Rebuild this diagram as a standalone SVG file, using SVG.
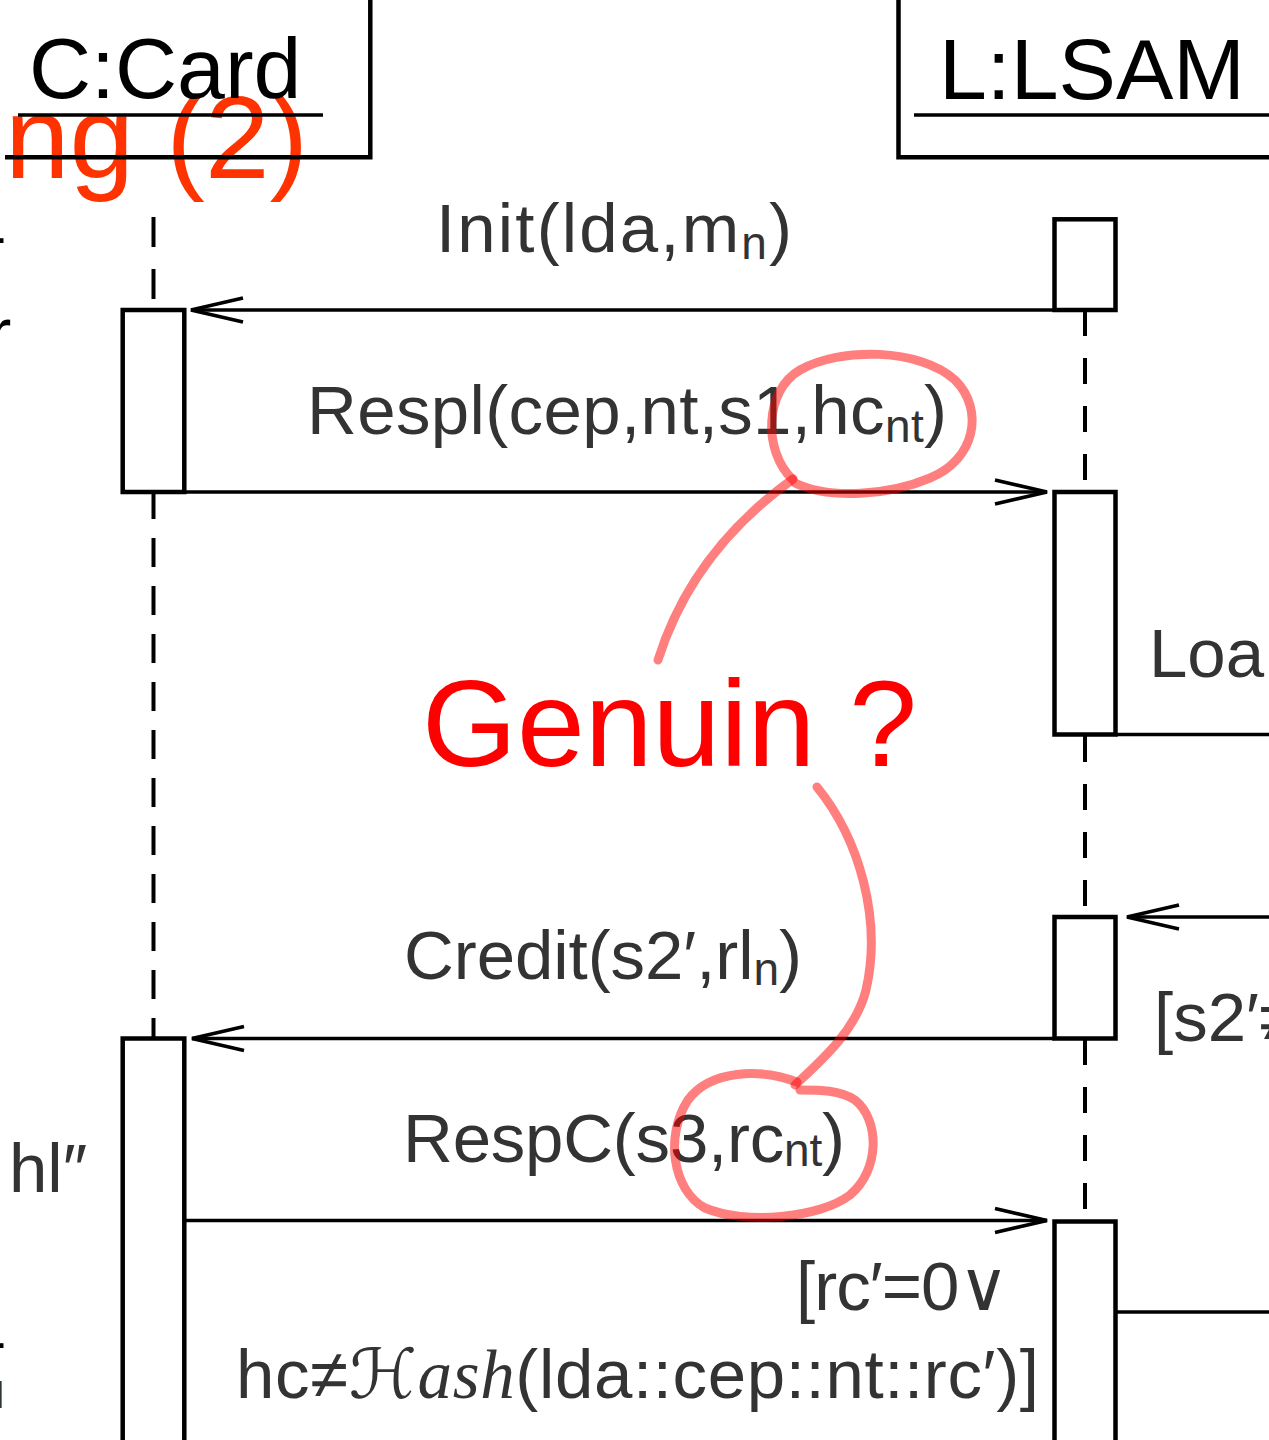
<svg xmlns="http://www.w3.org/2000/svg" width="1269" height="1440" viewBox="0 0 1269 1440">
<style>
.box{fill:none;stroke:#000;stroke-width:4.5}
.life{fill:none;stroke:#000;stroke-width:4}
.msg{fill:none;stroke:#000;stroke-width:3.6}
.ttl{font-family:"Liberation Sans","DejaVu Sans",sans-serif;font-size:86px;fill:#000}
.lbl{font-family:"Liberation Sans","DejaVu Sans",sans-serif;font-size:69px;fill:#333}
.sub{font-size:46px}
.frag{font-family:"Liberation Sans","DejaVu Sans",sans-serif;fill:#000}
.pen{fill:none;stroke:#ff0000;stroke-opacity:0.5;stroke-width:9;stroke-linecap:round;stroke-linejoin:round}
</style>
<defs>
<marker id="arr" markerUnits="userSpaceOnUse" orient="auto" overflow="visible" markerWidth="60" markerHeight="30" refX="0" refY="0">
<path d="M -52 -12 L 0 0 L -52 12" fill="none" stroke="#000" stroke-width="3.6"/>
</marker>
</defs>
<rect width="1269" height="1440" fill="#fff"/>

<!-- slide title fragment -->
<text id="title-fragment" x="5" y="178" font-family="Liberation Sans, Arial, sans-serif" font-size="116" fill="#ff3300">ng (2)</text>

<!-- clipped fragments on the left edge -->
<g id="left-fragments">
<text class="frag" x="-5" y="243" font-size="45">.</text>
<text class="frag" x="-12" y="357" font-size="70">r</text>
<text class="lbl" x="9" y="1192">hl″</text>
<text class="frag" x="-5" y="1348" font-size="45">.</text>
<text class="lbl" x="-27" y="1408" style="font-size:38px">M</text>
</g>

<!-- lifeline heads -->
<g id="card">
<path class="box" d="M 5 157.3 H 370.3 V 0"/>
<text class="ttl" x="29" y="98">C:Card</text>
<line x1="18" y1="115" x2="323" y2="115" stroke="#000" stroke-width="3.5"/>
</g>
<g id="lsam">
<path class="box" d="M 1269 157.3 H 898.5 V 0"/>
<text class="ttl" x="939" y="99">L:LSAM</text>
<line x1="914" y1="115" x2="1269" y2="115" stroke="#000" stroke-width="3.5"/>
</g>

<!-- lifelines -->
<g id="lifelines">
<line class="life" x1="153.5" y1="217" x2="153.5" y2="310" stroke-dasharray="30 22"/>
<line class="life" x1="153.5" y1="490" x2="153.5" y2="1038" stroke-dasharray="29 19"/>
<line class="life" x1="1085" y1="310" x2="1085" y2="492" stroke-width="3.5" stroke-dasharray="26 22"/>
<line class="life" x1="1085" y1="736" x2="1085" y2="917" stroke-width="3.5" stroke-dasharray="26 22"/>
<line class="life" x1="1085" y1="1039" x2="1085" y2="1221" stroke-width="3.5" stroke-dasharray="26 22"/>
</g>

<!-- connectors -->
<g id="connectors">
<line class="msg" x1="1054.5" y1="310" x2="191" y2="310" marker-end="url(#arr)"/>
<line class="msg" x1="184.3" y1="492" x2="1047" y2="492" marker-end="url(#arr)"/>
<line class="msg" x1="1115.5" y1="734.5" x2="1269" y2="734.5"/>
<line class="msg" x1="1269" y1="917" x2="1127" y2="917" marker-end="url(#arr)"/>
<line class="msg" x1="1054.5" y1="1038.5" x2="192" y2="1038.5" marker-end="url(#arr)"/>
<line class="msg" x1="184.3" y1="1220.5" x2="1047" y2="1220.5" marker-end="url(#arr)"/>
<line class="msg" x1="1115.5" y1="1312" x2="1269" y2="1312"/>
</g>

<!-- activation boxes -->
<g id="card-act1"><rect class="box" x="122.7" y="310" width="61.6" height="182"/></g>
<g id="card-act2"><rect class="box" x="122.7" y="1038.5" width="61.6" height="430"/></g>
<g id="lsam-act1"><rect class="box" x="1054.5" y="219.3" width="61" height="90.7"/></g>
<g id="lsam-act2"><rect class="box" x="1054.5" y="492" width="61" height="242.5"/></g>
<g id="lsam-act3"><rect class="box" x="1054.5" y="917" width="61" height="121.5"/></g>
<g id="lsam-act4"><rect class="box" x="1054.5" y="1221.5" width="61" height="260"/></g>

<!-- message labels -->
<g id="labels">
<text class="lbl" x="436" y="252" textLength="356" lengthAdjust="spacing">Init(lda,m<tspan class="sub" dy="7">n</tspan><tspan dy="-7">)</tspan></text>
<text class="lbl" x="307" y="434" textLength="640" lengthAdjust="spacing">Respl(cep,nt,s1,hc<tspan class="sub" dy="8">nt</tspan><tspan dy="-8">)</tspan></text>
<text class="lbl" x="1149" y="677">Loa</text>
<text class="lbl" x="404" y="979" textLength="398" lengthAdjust="spacing">Credit(s2′,rl<tspan class="sub" dy="6">n</tspan><tspan dy="-6">)</tspan></text>
<text class="lbl" x="1154" y="1041">[s2′≠</text>
<text class="lbl" x="403" y="1162" textLength="442" lengthAdjust="spacing">RespC(s3,rc<tspan class="sub" dy="4">nt</tspan><tspan dy="-4">)</tspan></text>
<text class="lbl" x="796" y="1310" textLength="213" lengthAdjust="spacing">[rc′=0∨</text>
<text class="lbl" x="236" y="1398" textLength="803" lengthAdjust="spacing">hc≠<tspan font-family="DejaVu Sans, Liberation Serif, serif">ℋ</tspan><tspan font-family="Liberation Serif, serif" font-style="italic">ash</tspan>(lda::cep::nt::rc′)]</text>
</g>

<!-- red annotation -->
<g id="annotation">
<text x="422" y="766" font-family="Liberation Sans, Arial, sans-serif" font-size="122" fill="#ff0000">Genuin ?</text>
<path class="pen" d="M 658 660 C 680 590, 722 530, 793 479"/>
<path class="pen" d="M 793 480 C 762 450, 765 390, 800 370 C 840 347, 920 348, 955 380 C 985 410, 975 460, 930 478 C 890 495, 830 500, 795 483"/>
<path class="pen" d="M 817 787 C 860 840, 882 920, 866 990 C 856 1030, 822 1060, 795 1085"/>
<path class="pen" d="M 797 1082 C 760 1068, 710 1070, 688 1100 C 665 1135, 672 1190, 705 1208 C 745 1225, 820 1218, 850 1195 C 880 1170, 880 1120, 855 1100 C 840 1090, 820 1090, 800 1090"/>
</g>
</svg>
